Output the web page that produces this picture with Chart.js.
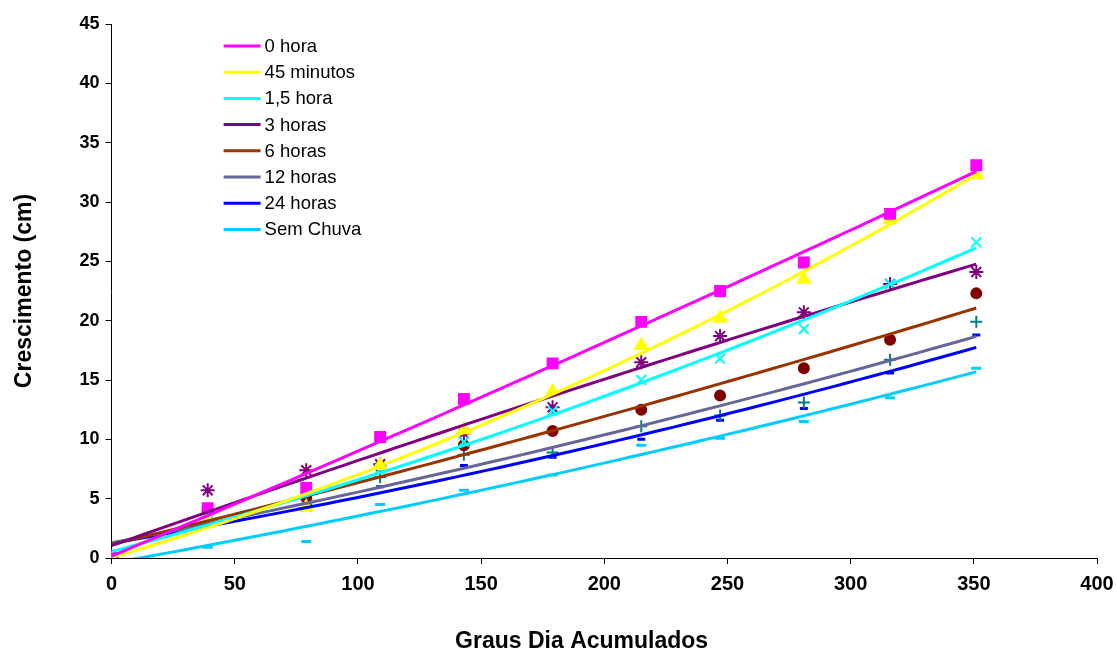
<!DOCTYPE html>
<html>
<head>
<meta charset="utf-8">
<script src="https://cdn.jsdelivr.net/npm/chart.js@4.4.0/dist/chart.umd.min.js"></script>
<style>
  html, body { margin: 0; padding: 0; background: #fff; }
  #wrap { width: 1117px; height: 653px; position: relative; }
</style>
</head>
<body>
<div id="wrap"><canvas id="growth"></canvas></div>
<script>
// Crescimento x Graus Dia Acumulados

var grausDia = [0, 39, 79, 109, 143, 179, 215, 247, 281, 316, 351];

var hora0     = [0, 4.2, 5.9, 10.2, 13.4, 16.4, 19.9, 22.5, 24.9, 29.0, 33.1];
var min45     = [0, 3.2, 4.3, 7.8, 10.8, 14.0, 17.9, 20.2, 23.5, 28.5, 32.3];
var hora1_5   = [0, 3.8, 4.3, 7.5, 9.8, 12.4, 15.0, 16.8, 19.3, 23.1, 26.6];
var horas3    = [0, 5.7, 7.4, 7.9, 10.5, 12.7, 16.5, 18.7, 20.7, 23.1, 24.1];
var horas6    = [0, 4.0, 5.1, 7.7, 9.5, 10.7, 12.5, 13.7, 16.0, 18.4, 22.3];
var horas12   = [0, 3.9, 4.5, 6.8, 8.7, 8.9, 11.1, 12.0, 13.1, 16.7, 19.9];
var horas24   = [0, 3.9, 4.1, 6.0, 7.8, 8.5, 10.0, 11.6, 12.6, 15.6, 18.8];
var semChuva  = [0, 0.9, 1.4, 4.5, 5.7, 7.0, 9.5, 10.1, 11.5, 13.5, 16.0];

var seriesNames = ['0 hora', '45 minutos', '1,5 hora', '3 horas', '6 horas', '12 horas', '24 horas', 'Sem Chuva'];
var seriesData = [hora0, min45, hora1_5, horas3, horas6, horas12, horas24, semChuva];

var lineColors   = ['#FF00FF', '#FFFF00', '#00FFFF', '#800080', '#993300', '#666699', '#0000FF', '#00CCFF'];
var markerColors = ['#FF00FF', '#FFFF00', '#00FFFF', '#800080', '#800000', '#008080', '#0000FF', '#00CCFF'];
var markerStyles = ['rect', 'triangle', 'crossRot', 'star', 'circle', 'cross', 'line', 'line'];
var markerSizes  = [7, 7, 7, 7, 5, 6, 4, 5];

var yTicks = [0, 5, 10, 15, 20, 25, 30, 35, 40, 45];
var xTicks = [0, 50, 100, 150, 200, 250, 300, 350, 400];

var xTitle = 'Graus Dia Acumulados';
var yTitle = 'Crescimento (cm)';

// 2nd order polynomial trendline (least squares), like the spreadsheet did
function polyFit2(xs, ys) {
  var s = [0, 0, 0, 0, 0], t = [0, 0, 0];
  for (var i = 0; i < xs.length; i++) {
    var p = 1;
    for (var k = 0; k < 5; k++) {
      s[k] += p;
      if (k < 3) t[k] += p * ys[i];
      p *= xs[i];
    }
  }
  // normal equations, solved by Cramer's rule
  var A = [[s[0], s[1], s[2]], [s[1], s[2], s[3]], [s[2], s[3], s[4]]];
  function det(M) {
    return M[0][0] * (M[1][1] * M[2][2] - M[1][2] * M[2][1]) -
           M[0][1] * (M[1][0] * M[2][2] - M[1][2] * M[2][0]) +
           M[0][2] * (M[1][0] * M[2][1] - M[1][1] * M[2][0]);
  }
  var D = det(A), c = [];
  for (var j = 0; j < 3; j++) {
    var M = A.map(function (row, r) { var cp = row.slice(); cp[j] = t[r]; return cp; });
    c.push(det(M) / D);
  }
  var pts = [], x0 = xs[0], x1 = xs[xs.length - 1], steps = 60;
  for (var n = 0; n <= steps; n++) {
    var x = x0 + (x1 - x0) * n / steps;
    pts.push({ x: x, y: c[0] + c[1] * x + c[2] * x * x });
  }
  return pts;
}

function toPoints(xs, ys) {
  return xs.map(function (x, i) { return { x: x, y: ys[i] }; });
}

var datasets = [];
seriesData.forEach(function (ys, i) {
  datasets.push({
    type: 'scatter',
    label: seriesNames[i] + ' (dados)',
    data: toPoints(grausDia, ys),
    pointStyle: markerStyles[i],
    pointRadius: markerSizes[i],
    pointBackgroundColor: markerColors[i],
    pointBorderColor: markerColors[i],
    pointBorderWidth: (markerStyles[i] === 'line' ? 3 : 2),
    showLine: false,
    order: 20 + i
  });
  datasets.push({
    type: 'line',
    label: seriesNames[i],
    data: polyFit2(grausDia, ys),
    borderColor: lineColors[i],
    borderWidth: 3,
    pointRadius: 0,
    fill: false,
    order: 10 + i
  });
});

var FONT = '"Liberation Sans", Arial, sans-serif';

// legend inside the plot + the x title (off-centre in the original)
var extras = {
  id: 'extras',
  afterDraw: function (chart) {
    var ctx = chart.ctx, area = chart.chartArea;
    var left = area.left + 112;
    var top = area.top + 22;
    ctx.save();
    ctx.font = '18.5px ' + FONT;
    ctx.textBaseline = 'middle';
    ctx.textAlign = 'left';
    seriesNames.forEach(function (name, i) {
      var y = top + i * 26.2;
      ctx.strokeStyle = lineColors[i];
      ctx.lineWidth = 3;
      ctx.beginPath();
      ctx.moveTo(left, y);
      ctx.lineTo(left + 37, y);
      ctx.stroke();
      ctx.fillStyle = '#000';
      ctx.fillText(name, left + 41, y + 1);
    });

    ctx.font = 'bold 23px ' + FONT;
    ctx.textAlign = 'center';
    ctx.fillText(xTitle, area.left + 470, area.bottom + 84);
    ctx.restore();
  }
};

Chart.defaults.font.family = FONT;
Chart.defaults.color = '#000';

new Chart(document.getElementById('growth'), {
  type: 'scatter',
  data: { datasets: datasets },
  plugins: [extras],
  options: {
    responsive: true,
    maintainAspectRatio: false,
    animation: false,
    layout: { padding: { top: 24, right: 2, bottom: 49, left: 11 } },
    plugins: {
      legend: { display: false },
      tooltip: { enabled: false }
    },
    scales: {
      x: {
        type: 'linear',
        min: 0, max: 400,
        afterBuildTicks: function (axis) { axis.ticks = xTicks.map(function (v) { return { value: v }; }); },
        afterFit: function (axis) { axis.paddingRight = 20; },
        grid: { drawOnChartArea: false, drawTicks: true, tickLength: 6, color: '#000' },
        border: { color: '#000', width: 1 },
        ticks: { font: { size: 20, weight: 'bold' }, padding: 8, maxRotation: 0 }
      },
      y: {
        type: 'linear',
        min: 0, max: 45,
        afterBuildTicks: function (axis) { axis.ticks = yTicks.map(function (v) { return { value: v }; }); },
        grid: { drawOnChartArea: false, drawTicks: true, tickLength: 6, color: '#000' },
        border: { color: '#000', width: 1 },
        ticks: { font: { size: 18, weight: 'bold' }, padding: 6 },
        title: {
          display: true,
          text: yTitle,
          font: { size: 23, weight: 'bold' },
          padding: { top: 0, bottom: 35 }
        }
      }
    }
  }
});
</script>
</body>
</html>
